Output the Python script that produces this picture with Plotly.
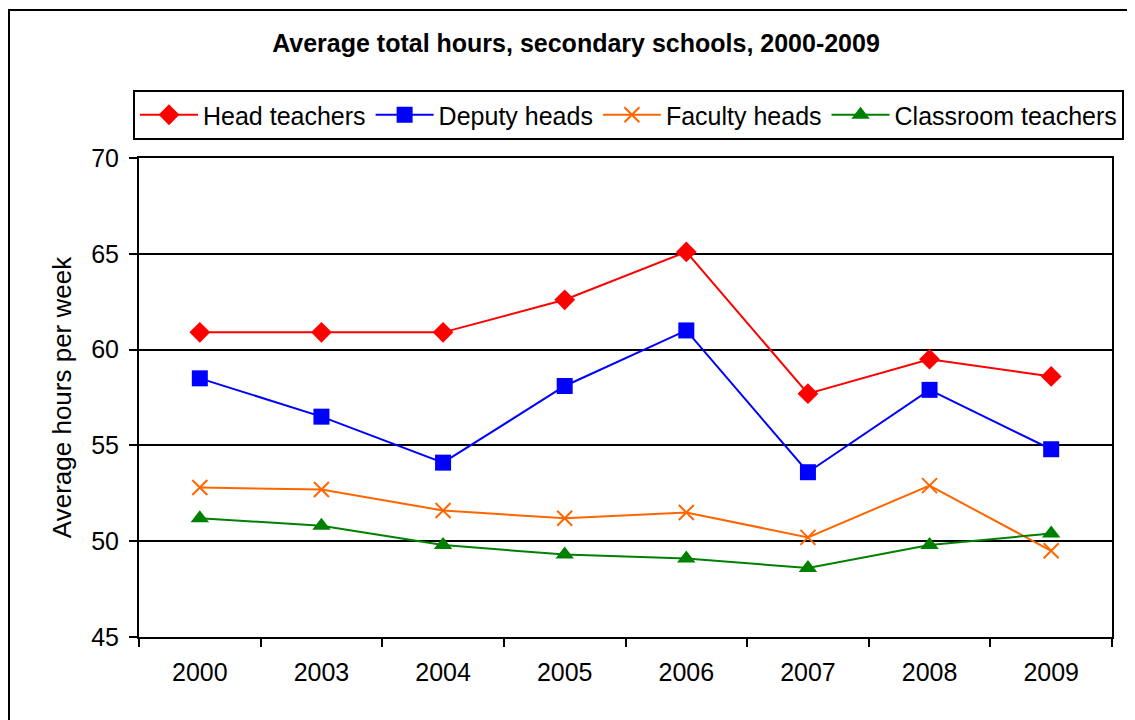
import plotly.graph_objects as go

years = ["2000", "2003", "2004", "2005", "2006", "2007", "2008", "2009"]
head_teachers = [60.9, 60.9, 60.9, 62.6, 65.1, 57.7, 59.5, 58.6]
deputy_heads = [58.5, 56.5, 54.1, 58.1, 61.0, 53.6, 57.9, 54.8]
faculty_heads = [52.8, 52.7, 51.6, 51.2, 51.5, 50.2, 52.9, 49.5]
classroom_teachers = [51.2, 50.8, 49.8, 49.3, 49.1, 48.6, 49.8, 50.4]

FONT = "Liberation Sans, Arial, sans-serif"

# page body has an 8px margin; work in screen coords and convert
OFF = 8
W, H = 1135 - OFF, 720 - OFF
L, R, T, B = 139 - OFF, 1135 - 1112, 158 - OFF, 720 - 637
pw, ph = W - L - R, H - T - B

def px(x):
    return (x - OFF - L) / pw

def py(y):
    return (H - B - (y - OFF)) / ph

fig = go.Figure()
fig.add_trace(go.Scatter(x=years, y=head_teachers, name="Head teachers", mode="lines+markers",
                         line=dict(color="#FF0000", width=2),
                         marker=dict(symbol="diamond", size=16, color="#FF0000")))
fig.add_trace(go.Scatter(x=years, y=deputy_heads, name="Deputy heads", mode="lines+markers",
                         line=dict(color="#0000FF", width=2),
                         marker=dict(symbol="square", size=16, color="#0000FF")))
fig.add_trace(go.Scatter(x=years, y=faculty_heads, name="Faculty heads", mode="lines+markers",
                         line=dict(color="#FF6600", width=2),
                         marker=dict(symbol="x-thin-open", size=15, color="#FF6600",
                                     line=dict(color="#FF6600", width=2))))
fig.add_trace(go.Scatter(x=years, y=classroom_teachers, name="Classroom teachers", mode="lines+markers",
                         line=dict(color="#008000", width=2),
                         marker=dict(symbol="triangle-up", size=16, color="#008000")))

fig.update_layout(
    width=W, height=H,
    margin=dict(l=L, r=R, t=T, b=B),
    paper_bgcolor="white", plot_bgcolor="white",
    font=dict(family=FONT, color="black", size=25),
    title=dict(text="<b>Average total hours, secondary schools, 2000-2009</b>",
               font=dict(family=FONT, size=25, color="black"),
               x=(576 - OFF) / W, xanchor="center", y=1 - (43 - OFF) / H, yanchor="middle"),
    legend=dict(orientation="h", x=px(133), xanchor="left", y=py(90), yanchor="top",
                bordercolor="black", borderwidth=2, bgcolor="white",
                font=dict(family=FONT, size=25, color="black"),
                itemwidth=58, tracegroupgap=0),
    showlegend=True,
    xaxis=dict(type="category", showgrid=False, showline=True, linecolor="black", linewidth=2,
               mirror=True, ticks="outside", tickson="boundaries", ticklen=8, tickwidth=2,
               tickcolor="black", tickfont=dict(family=FONT, size=25, color="black"),
               ticklabelstandoff=12,
               range=[-0.5, 7.5], zeroline=False),
    yaxis=dict(range=[45, 70], dtick=5, showgrid=True, gridcolor="black", gridwidth=2,
               showline=True, linecolor="black", linewidth=2, mirror=True,
               ticks="outside", ticklen=8, tickwidth=2, tickcolor="black",
               tickfont=dict(family=FONT, size=25, color="black"),
               ticklabelstandoff=5,
               title=dict(text="Average hours per week", font=dict(family=FONT, size=26, color="black"),
                          standoff=12),
               zeroline=False),
    shapes=[dict(type="rect", xref="paper", yref="paper",
                 x0=px(9), x1=px(1200), y0=py(800), y1=py(10),
                 line=dict(color="black", width=2), fillcolor="rgba(0,0,0,0)", layer="below")],
)

fig.write_html("out.html")
